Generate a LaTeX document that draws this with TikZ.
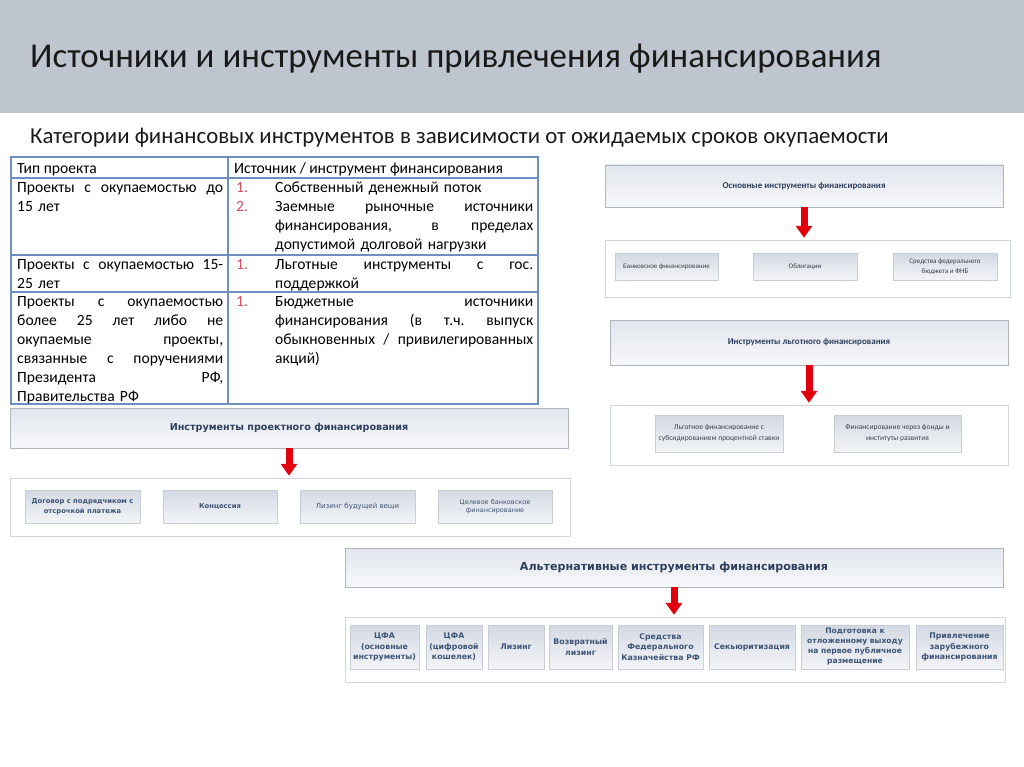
\documentclass[tikz,border=0pt]{standalone}
\usepackage{fontspec}
\setmainfont{Carlito}
\newfontfamily\boxfont{DejaVu Sans}
\usetikzlibrary{arrows.meta,shadows}

\definecolor{barback}{HTML}{BFC5CE}
\definecolor{tblline}{HTML}{6F90BE}
\definecolor{numred}{HTML}{D4505C}
\definecolor{hdrtop}{HTML}{E2E6ED}
\definecolor{hdrbot}{HTML}{F6F7F9}
\definecolor{hdrline}{HTML}{AEB5C0}
\definecolor{itemtop}{HTML}{D3D9E3}
\definecolor{itembot}{HTML}{F3F4F7}
\definecolor{itemline}{HTML}{C9CED6}
\definecolor{panelline}{HTML}{D3D7DD}
\definecolor{navytext}{HTML}{2E3F5C}
\definecolor{bluetext}{HTML}{3E5475}
\definecolor{greytext}{HTML}{3A3F4A}
\definecolor{arrowred}{HTML}{E2000F}

% justified line of a given width
\newcommand{\jl}[2]{\makebox[#1][s]{\spaceskip=0.25em plus 1fil\xspaceskip=0.25em plus 1fil\relax #2}}

\tikzset{
  cell/.style={anchor=north west, inner sep=0pt, align=left,
    font=\fontsize{15.6}{19}\selectfont},
  hdr/.style={draw=hdrline, top color=hdrtop, bottom color=hdrbot,
    inner sep=0pt, drop shadow={shadow xshift=1pt, shadow yshift=-1pt, opacity=0.15}},
  panel/.style={draw=panelline, fill=white, inner sep=0pt},
  item/.style={draw=itemline, top color=itemtop, bottom color=itembot,
    inner sep=0pt, align=center,
    drop shadow={shadow xshift=1.2pt, shadow yshift=-1.2pt, opacity=0.18}},
  smallitem/.style={item, text=greytext, font=\fontsize{7}{10}\selectfont},
  projitem/.style={item, text=bluetext, font=\boxfont\fontsize{7}{10}\selectfont},
  altitem/.style={item, text=bluetext, font=\boxfont\bfseries\fontsize{7.8}{10.5}\selectfont},
  redarrow/.style={draw=arrowred, line width=7pt, shorten >=2pt,
    -{Triangle[width=16pt,length=12pt]}},
}

\begin{document}
\begin{tikzpicture}[x=1pt,y=-1pt]
\useasboundingbox (0,0) rectangle (1024,767);

% title bar
\fill[barback] (0,0) rectangle (1024,113);
\node[anchor=base west, inner sep=0pt, font=\fontsize{34.9}{40}\selectfont, text=black!90]
  (title) at (30,68) {Источники и инструменты привлечения финансирования};
\node[anchor=base west, inner sep=0pt, font=\fontsize{22.8}{26}\selectfont, text=black!90]
  (subtitle) at (30,144) {Категории финансовых инструментов в зависимости от ожидаемых сроков окупаемости};

% table
\draw[tblline, line width=1.2pt] (11,157) rectangle (538,404);
\draw[tblline, line width=1.2pt] (228,157) -- (228,404);
\foreach \ry in {178,255,292}
  \draw[tblline, line width=1.2pt] (11,\ry) -- (538,\ry);

\node[cell] (head1) at (17,160.2) {\strut Тип проекта};
\node[cell] (head2) at (234,160.2) {\strut Источник / инструмент финансирования};

\node[cell, text width=206pt] (type1) at (17,179.2)
  {\strut\jl{206pt}{Проекты с окупаемостью до}\\15 лет};
\node[cell, text width=297pt] (src1) at (236,179.2)
  {\strut\makebox[39pt][l]{\textcolor{numred}{1.}}Собственный денежный поток\\
   \makebox[39pt][l]{\textcolor{numred}{2.}}\jl{258pt}{Заемные рыночные источники}\\
   \hspace*{39pt}\jl{258pt}{финансирования, в пределах}\\
   \hspace*{39pt}допустимой долговой нагрузки};

\node[cell, text width=206pt] (type2) at (17,256.2)
  {\strut\jl{206pt}{Проекты с окупаемостью 15-}\\25 лет};
\node[cell, text width=297pt] (src2) at (236,256.2)
  {\strut\makebox[39pt][l]{\textcolor{numred}{1.}}\jl{258pt}{Льготные инструменты с гос.}\\
   \hspace*{39pt}поддержкой};

\node[cell, text width=206pt] (type3) at (17,293.2)
  {\strut\jl{206pt}{Проекты с окупаемостью}\\
   \jl{206pt}{более 25 лет либо не}\\
   \jl{206pt}{окупаемые проекты,}\\
   \jl{206pt}{связанные с поручениями}\\
   \jl{206pt}{Президента РФ,}\\
   Правительства РФ};
\node[cell, text width=297pt] (src3) at (236,293.2)
  {\strut\makebox[39pt][l]{\textcolor{numred}{1.}}\jl{258pt}{Бюджетные источники}\\
   \hspace*{39pt}\jl{258pt}{финансирования (в т.ч. выпуск}\\
   \hspace*{39pt}\jl{258pt}{обыкновенных / привилегированных}\\
   \hspace*{39pt}акций)};

% main instruments
\node[hdr, minimum width=398pt, minimum height=42pt, text=navytext,
  font=\bfseries\fontsize{9}{11}\selectfont] (hdrA) at (804,186)
  {Основные инструменты финансирования};
\node[panel, minimum width=405pt, minimum height=57pt] (panA) at (807.5,268.5) {};
\node[smallitem, minimum width=103pt, minimum height=27pt] (bank) at (666.5,266.5)
  {Банковское финансирование};
\node[smallitem, minimum width=104pt, minimum height=27pt] (bonds) at (805,266.5)
  {Облигации};
\node[smallitem, minimum width=104pt, minimum height=27pt] (budget) at (945,266.5)
  {Средства федерального\\бюджета и ФНБ};
\draw[redarrow] (hdrA.south) -- (hdrA.south |- panA.north);

% preferential instruments
\node[hdr, minimum width=398pt, minimum height=45pt, text=navytext,
  font=\bfseries\fontsize{9}{11}\selectfont] (hdrB) at (809,342.5)
  {Инструменты льготного финансирования};
\node[panel, minimum width=398pt, minimum height=60pt] (panB) at (809,435) {};
\node[smallitem, minimum width=128pt, minimum height=37pt,
  font=\fontsize{7.5}{11}\selectfont] (subsidy) at (719,433.5)
  {Льготное финансирование с\\субсидированием процентной ставки};
\node[smallitem, minimum width=127pt, minimum height=37pt,
  font=\fontsize{7.5}{11}\selectfont] (funds) at (897.5,433.5)
  {Финансирование через фонды и\\институты развития};
\draw[redarrow] (hdrB.south) -- (hdrB.south |- panB.north);

% project finance instruments
\node[hdr, minimum width=558pt, minimum height=40pt, text=navytext,
  font=\boxfont\bfseries\fontsize{9.6}{11}\selectfont] (hdrC) at (289,428)
  {Инструменты проектного финансирования};
\node[panel, minimum width=560pt, minimum height=58pt] (panC) at (290,507) {};
\node[projitem, minimum width=115pt, minimum height=33pt,
  font=\boxfont\bfseries\fontsize{6.8}{10}\selectfont] (contract) at (82.5,506.5)
  {Договор с подрядчиком с\\отсрочкой платежа};
\node[projitem, minimum width=114pt, minimum height=33pt,
  font=\boxfont\bfseries\fontsize{6.8}{10}\selectfont] (concession) at (220,506.5)
  {Концессия};
\node[projitem, minimum width=115pt, minimum height=33pt] (futlease) at (357.5,506.5)
  {Лизинг будущей вещи};
\node[projitem, minimum width=114pt, minimum height=33pt,
  font=\boxfont\fontsize{6.5}{8}\selectfont] (targetbank) at (495,506.5)
  {Целевое банковское\\финансирование};
\draw[redarrow] (hdrC.south) -- (hdrC.south |- panC.north);

% alternative instruments
\node[hdr, minimum width=658pt, minimum height=39pt, text=navytext,
  font=\boxfont\bfseries\fontsize{11.1}{13}\selectfont] (hdrD) at (674,567.5)
  {Альтернативные инструменты финансирования};
\node[panel, minimum width=660pt, minimum height=65pt] (panD) at (675,649.5) {};
\node[altitem, minimum width=69pt, minimum height=44pt] (dfa1) at (384.5,647)
  {ЦФА\\(основные\\инструменты)};
\node[altitem, minimum width=56pt, minimum height=44pt] (dfa2) at (454,647)
  {ЦФА\\(цифровой\\кошелек)};
\node[altitem, minimum width=56pt, minimum height=44pt] (lease) at (516,647)
  {Лизинг};
\node[altitem, minimum width=63pt, minimum height=44pt] (backlease) at (580.5,647)
  {Возвратный\\лизинг};
\node[altitem, minimum width=85pt, minimum height=44pt] (treasury) at (660.5,647)
  {Средства\\Федерального\\Казначейства РФ};
\node[altitem, minimum width=86pt, minimum height=44pt] (secur) at (752,647)
  {Секьюритизация};
\node[altitem, minimum width=108pt, minimum height=44pt,
  font=\boxfont\bfseries\fontsize{7.6}{10}\selectfont] (ipo) at (855,647)
  {Подготовка к\\отложенному выходу\\на первое публичное\\размещение};
\node[altitem, minimum width=87pt, minimum height=44pt] (foreign) at (959.5,647)
  {Привлечение\\зарубежного\\финансирования};
\draw[redarrow] (hdrD.south) -- (hdrD.south |- panD.north);
\end{tikzpicture}
\end{document}
